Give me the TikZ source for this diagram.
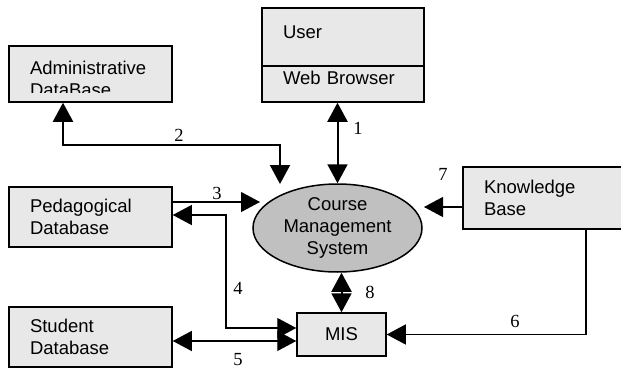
\documentclass[tikz,border=0pt]{standalone}
\usepackage{fontspec}
\setmainfont{Liberation Serif}
\setsansfont{Liberation Sans}
\usetikzlibrary{arrows.meta,shapes.geometric}

\definecolor{boxfill}{RGB}{232,232,232}
\definecolor{cmsfill}{RGB}{192,192,192}

\tikzset{
  box/.style={draw, line width=1.5pt, fill=boxfill, inner xsep=21pt, inner ysep=0pt,
    align=left, font=\sffamily\fontsize{18.5}{21.5}\selectfont},
  num/.style={inner sep=0pt, font=\fontsize{18.5}{18.5}\selectfont},
}

\begin{document}
\begin{tikzpicture}[x=1pt, y=-1pt, line width=1.2pt,
    >={Triangle[length=19pt,width=20pt]}]

    \useasboundingbox (0,0) rectangle (621,369);
    \clip (0,0) rectangle (621,369);

    % Data stores and user side
    \node[box, minimum height=56pt, text width=121pt] (admin) at (90.5,74) {};
    \begin{scope}
        \clip (admin.north west) rectangle ([yshift=10pt]admin.south east);
        \node[box, draw=none, fill=none, text width=121pt] (admintext) at ([yshift=-5pt]admin.center) {Administrative\\DataBase};
    \end{scope}
    \node[box, minimum height=58pt, text width=120pt, text depth=10pt] (user) at (343,37) {User};
    \node[box, minimum height=36pt, text width=120pt, text depth=12pt] (browser) at (343,84) {Web Browser};
    \node[box, minimum height=60pt, text width=121pt] (ped) at (90.5,217) {Pedagogical\\Database};
    \node[box, minimum height=60pt, text width=121pt] (student) at (90.5,337) {Student\\Database};
    \node[box, minimum height=62pt, text width=135pt] (know) at (551.5,198) {Knowledge\\Base};

    % Course management system and MIS
    \node[ellipse, draw, line width=1.5pt, fill=cmsfill, minimum width=169pt, minimum height=88pt,
        inner sep=0pt, align=center, font=\sffamily\fontsize{18.5}{22}\selectfont] (cms) at (337.5,228) {Course\\Management\\System};
    \node[box, minimum width=89pt, minimum height=43pt, inner xsep=0pt, align=center] (mis) at (341.5,334.5) {MIS};

    % Corner and end points of the flows
    \coordinate (k2) at (280,145);
    \coordinate (c2) at (280,184);
    \coordinate (c3) at (260,202);
    \coordinate (k4) at (226,328);
    \coordinate (k6) at (586,334.5);
    \coordinate (c7) at (424,207);

    % Flows
    \draw[<->, line width=2pt] (cms.north) -- (cms.north |- browser.south);
    \draw[<->, line width=2pt] ([xshift=-27.5pt]admin.south) |- (k2) -- (c2);
    \draw[->] ([yshift=15pt]ped.east) -- (c3);
    \draw[<->] ([yshift=2pt]ped.east) -| (k4) -- ([yshift=6.5pt]mis.west);
    \draw[<->] ([yshift=-6.5pt]mis.west) -- ([yshift=-6.5pt]mis.west -| student.east);
    \draw[->] (k6 |- know.south) -- (k6) -- (mis.east);
    \draw[->] (know.west |- c7) -- (c7);
    \draw[<->, line width=2pt] (mis.north) -- (mis.north |- cms.south);

    % Flow numbers
    \foreach \n/\x/\y in {1/358/128, 2/179/135, 3/217/193, 4/238/288, 5/238/360, 6/515/321, 7/443/174, 8/370/292} {
        \node[num] (n\n) at (\x,\y) {\n};
    }
\end{tikzpicture}
\end{document}
